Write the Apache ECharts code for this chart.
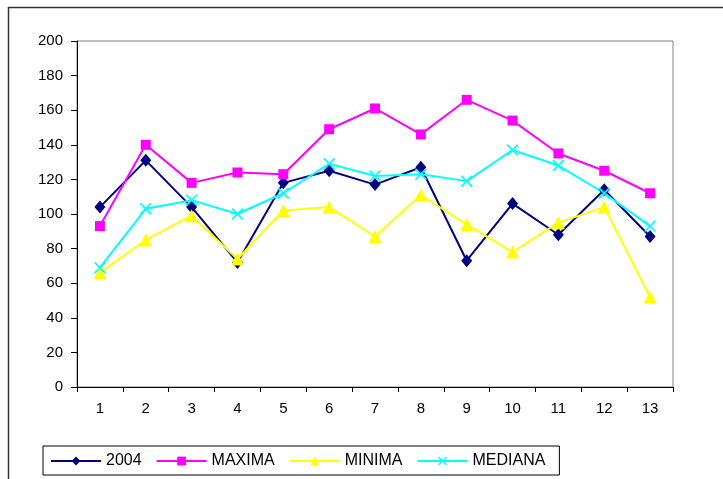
<!DOCTYPE html>
<html>
<head>
<meta charset="utf-8">
<script src="https://cdn.jsdelivr.net/npm/echarts@6/dist/echarts.min.js"></script>
<style>
  html, body { margin: 0; padding: 0; background: #fff; }
  #chart { width: 723px; height: 479px; }
</style>
</head>
<body>
<div id="chart"></div>
<script>
// Categories along the x axis
const categories = ['1', '2', '3', '4', '5', '6', '7', '8', '9', '10', '11', '12', '13'];

// Series names and values
const seriesNames = ['2004', 'MAXIMA', 'MINIMA', 'MEDIANA'];
const serie2004 = [104, 131, 104, 72, 118, 125, 117, 127, 73, 106, 88, 114, 87];
const maxima    = [93, 140, 118, 124, 123, 149, 161, 146, 166, 154, 135, 125, 112];
const minima    = [66, 85, 99, 74, 102, 104, 87, 111, 94, 78, 95, 104, 52];
const mediana   = [69, 103, 108, 100, 112, 129, 122, 123, 119, 137, 128, 112, 93];

// Y axis range
const yMin = 0, yMax = 200, yStep = 20;

// Filled "x" marker shape
const crossPath = 'path://M0,1L1,0L5,4L9,0L10,1L6,5L10,9L9,10L5,6L1,10L0,9L4,5Z';

const font = 'Liberation Sans, Arial, sans-serif';

const chart = echarts.init(document.getElementById('chart'), null, { renderer: 'canvas' });

function lineSeries(name, data, color, symbol, size) {
  return {
    name: name,
    type: 'line',
    data: data,
    symbol: symbol,
    symbolSize: size,
    showAllSymbol: true,
    lineStyle: { color: color, width: 2 },
    itemStyle: { color: color, borderWidth: 0 },
    emphasis: { disabled: true },
    animation: false
  };
}

chart.setOption({
  backgroundColor: '#ffffff',
  animation: false,
  graphic: [{
    type: 'rect',
    shape: { x: 8.5, y: 7.5, width: 800, height: 600 },
    style: { fill: 'none', stroke: '#333', lineWidth: 1.5 },
    silent: true,
    z: -1
  }],
  grid: {
    left: 77, top: 41, right: 50, bottom: 92,
    show: true, borderColor: '#808080', borderWidth: 1,
    backgroundColor: 'transparent'
  },
  legend: {
    left: 43, top: 446,
    orient: 'horizontal',
    itemWidth: 50, itemHeight: 11, itemGap: 14,
    padding: [7, 14, 6, 7],
    borderColor: '#000', borderWidth: 1,
    textStyle: { fontFamily: font, fontSize: 16, color: '#000' },
    selectedMode: false,
    data: seriesNames
  },
  xAxis: {
    type: 'category',
    data: categories,
    boundaryGap: true,
    axisLine: { show: true, lineStyle: { color: '#000', width: 1 } },
    axisTick: { show: true, length: 5, alignWithLabel: false, lineStyle: { color: '#000' } },
    axisLabel: { fontFamily: font, fontSize: 15, color: '#000', margin: 14, interval: 0 },
    splitLine: { show: false }
  },
  yAxis: {
    type: 'value',
    min: yMin, max: yMax, interval: yStep,
    axisLine: { show: true, lineStyle: { color: '#000', width: 1 } },
    axisTick: { show: true, length: 6, lineStyle: { color: '#000' } },
    axisLabel: { fontFamily: font, fontSize: 15, color: '#000', margin: 14 },
    splitLine: { show: false }
  },
  series: [
    lineSeries(seriesNames[0], serie2004, '#000080', 'diamond', [11, 13]),
    lineSeries(seriesNames[1], maxima, '#FF00FF', 'rect', 10),
    lineSeries(seriesNames[2], minima, '#FFFF00', 'triangle', 13),
    lineSeries(seriesNames[3], mediana, '#00FFFF', crossPath, 12)
  ]
});
</script>
</body>
</html>
